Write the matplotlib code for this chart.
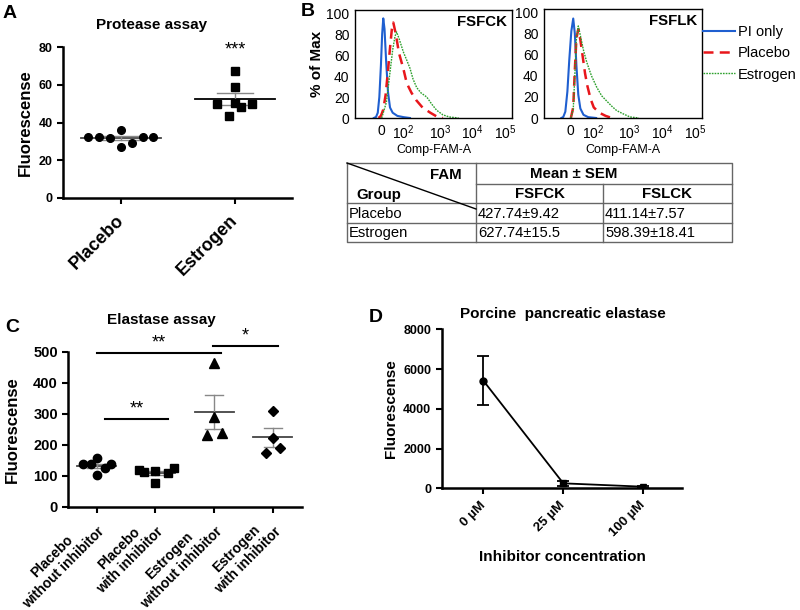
import numpy as np
import matplotlib.pyplot as plt
from matplotlib.lines import Line2D

plt.rcParams['font.family'] = ['Liberation Sans', 'DejaVu Sans']
plt.rcParams['mathtext.fontset'] = 'custom'
plt.rcParams['mathtext.rm'] = 'Liberation Sans'

# ---- data ----
# A: protease assay
protease_groups = ['Placebo', 'Estrogen']
protease_placebo = [32.3, 32.2, 31.6, 36.0, 27.2, 29.0, 32.5, 32.5]
protease_estrogen = [67.4, 59.0, 49.6, 50.5, 48.0, 49.6, 43.4]
protease_sig = '***'

# B: flow histograms (x in display units 0-100 of the biexponential axis, y = % of max)
hist_ticklabels = ['0', '$10^2$', '$10^3$', '$10^4$', '$10^5$']
hist_tickpos = [17, 31, 54, 75, 96]
series_names = ['PI only', 'Placebo', 'Estrogen']

fsfck_pi_x = [12, 13.4, 14.5, 15.5, 16.5, 17.3, 18.0, 18.8, 19.8, 21, 22.3, 24, 27, 31, 35]
fsfck_pi_y = [0, 1, 5, 20, 50, 80, 95, 85, 55, 25, 10, 5, 2, 0.8, 0]
fsfck_pl_x = [15, 16.5, 18, 19.5, 21, 22.5, 23.5, 24.4, 26, 28, 30.8, 33, 36, 39, 43, 48, 52, 56]
fsfck_pl_y = [0, 2, 8, 22, 45, 70, 85, 91, 80, 62, 47, 33, 24, 17, 10, 5, 1.5, 0]
fsfck_es_x = [17, 20, 22, 24, 25.5, 26.5, 28, 30.8, 33, 35, 37, 39.3, 42, 45.7, 49, 52, 56, 60, 66]
fsfck_es_y = [0, 15, 40, 65, 78, 82, 76, 63, 55, 47.5, 37, 29, 24, 20, 13, 7.4, 3, 1, 0]

fsflk_pi_x = [11, 12.2, 13.5, 14.8, 16, 17.3, 18.5, 19.5, 20.5, 21.7, 23, 25, 28, 33]
fsflk_pi_y = [0, 1, 6, 25, 55, 82, 94, 80, 50, 22, 9, 3, 0.8, 0]
fsflk_pl_x = [17, 18.5, 19.5, 20.5, 21.7, 23, 24.5, 26, 27.5, 29.5, 31.5, 35, 39, 43]
fsflk_pl_y = [0, 10, 45, 75, 84, 74, 58, 42, 30, 18, 10, 5, 2, 0]
fsflk_es_x = [17, 18.5, 19.5, 20.5, 21.7, 23, 25, 27, 30, 33.4, 36.5, 39.7, 43, 46, 50, 54.4, 60]
fsflk_es_y = [0, 8, 40, 75, 87, 78, 64, 53, 40, 29, 21, 16, 11, 7, 4, 1, 0]

# B: table
table_groups = ['Placebo', 'Estrogen']
table_fsfck = ['427.74±9.42', '627.74±15.5']
table_fslck = ['411.14±7.57', '598.39±18.41']

# C: elastase assay
elastase_groups = ['Placebo\nwithout inhibitor', 'Placebo\nwith inhibitor',
                   'Estrogen\nwithout inhibitor', 'Estrogen\nwith inhibitor']
elastase_values = [
    [136.7, 136.7, 156, 102, 124, 136.7],
    [118, 111, 115, 77, 107.6, 126],
    [464.5, 288, 231, 237],
    [308.7, 220.6, 190, 174],
]

# D: porcine pancreatic elastase
conc_labels = ['0 µM', '25 µM', '100 µM']
ppe_mean = [5420, 250, 80]
ppe_sem = [1250, 120, 60]

# ---- layout helpers (scatter jitter) ----
protease_dx = [[-0.287, -0.19, -0.096, 0, 0, 0.094, 0.19, 0.284],
               [0, 0, -0.155, 0, 0.05, 0.15, -0.05]]
elastase_dx = [[-0.23, -0.1, 0, 0, 0.14, 0.25],
               [-0.28, -0.19, 0, 0, 0.22, 0.31],
               [0, 0, -0.12, 0.13],
               [0, 0, 0.125, -0.12]]

W, H = 800, 610
fig = plt.figure(figsize=(8, 6.1), dpi=100)


def px(l, t, r, b):
    return [l / W, 1 - b / H, (r - l) / W, (b - t) / H]


def style_prism(ax):
    for s in ['top', 'right']:
        ax.spines[s].set_visible(False)
    for s in ['left', 'bottom']:
        ax.spines[s].set_linewidth(1.8)
    ax.tick_params(direction='out', length=4, width=1.5)


def bold_ticks(ax):
    for lbl in ax.get_xticklabels() + ax.get_yticklabels():
        lbl.set_fontweight('bold')


def mean_sem(ax, i, vals, hw, cw, mcolor):
    m = np.mean(vals)
    s = np.std(vals, ddof=1) / np.sqrt(len(vals))
    ax.plot([i - hw, i + hw], [m, m], color=mcolor, lw=1.3, zorder=1)
    ax.plot([i, i], [m - s, m + s], color='#888888', lw=1, zorder=1)
    for y in (m - s, m + s):
        ax.plot([i - cw, i + cw], [y, y], color='#888888', lw=1, zorder=1)


# overlay for letters and table
ov = fig.add_axes([0, 0, 1, 1])
ov.set_xlim(0, W)
ov.set_ylim(H, 0)
ov.axis('off')
for letter, (x, y) in zip('ABCD', [(10, 13), (308, 11), (12, 327), (376, 318)]):
    ov.text(x, y, letter, fontsize=14, fontweight='bold', ha='center', va='center')

# table
tx = [347, 476, 603, 732]
ty = [163, 184, 203, 223, 242]
lc = '#666666'
ov.plot([tx[0], tx[3], tx[3], tx[0], tx[0]], [ty[0], ty[0], ty[4], ty[4], ty[0]], color=lc, lw=1)
ov.plot([tx[1], tx[1]], [ty[0], ty[4]], color=lc, lw=1)
ov.plot([tx[2], tx[2]], [ty[1], ty[4]], color=lc, lw=1)
ov.plot([tx[1], tx[3]], [ty[1], ty[1]], color=lc, lw=1)
for y in ty[2:4]:
    ov.plot([tx[0], tx[3]], [y, y], color=lc, lw=1)
ov.plot([tx[0], tx[1]], [ty[0], 209], color='black', lw=1)
ov.text(462, 175, 'FAM', fontsize=10.8, fontweight='bold', ha='right', va='center')
ov.text(356, 195, 'Group', fontsize=10.8, fontweight='bold', ha='left', va='center')
ov.text(574, 174, 'Mean ± SEM', fontsize=10.8, fontweight='bold', ha='center', va='center')
ov.text(540, 194, 'FSFCK', fontsize=10.8, fontweight='bold', ha='center', va='center')
ov.text(667, 194, 'FSLCK', fontsize=10.8, fontweight='bold', ha='center', va='center')
for r, (g, a, b) in enumerate(zip(table_groups, table_fsfck, table_fslck)):
    yy = 214 + r * 19
    ov.text(349, yy, g, fontsize=10.6, ha='left', va='center')
    ov.text(478, yy, a, fontsize=10.6, ha='left', va='center')
    ov.text(605, yy, b, fontsize=10.6, ha='left', va='center')

# ---- A ----
axA = fig.add_axes(px(63, 47, 292, 198))
style_prism(axA)
for i, (vals, mk) in enumerate(zip([protease_placebo, protease_estrogen], ['o', 's'])):
    mean_sem(axA, i, vals, 0.35, 0.16, '#444444' if i == 0 else 'black')
    axA.plot(np.array(protease_dx[i]) + i, vals, mk, color='black', ms=5.5, ls='none', zorder=3)
axA.text(1, 74, protease_sig, ha='center', va='bottom', fontsize=13)
axA.set_xlim(-0.509, 1.5)
axA.set_ylim(0, 80)
axA.set_yticks([0, 20, 40, 60, 80])
axA.set_xticks([0, 1])
axA.set_xticklabels(protease_groups, rotation=45, ha='right', va='center',
                    rotation_mode='anchor', fontsize=13)
axA.tick_params(axis='y', labelsize=9)
axA.tick_params(axis='x', pad=10)
bold_ticks(axA)
axA.set_ylabel('Fluorescense', fontsize=12, fontweight='bold')
axA.yaxis.set_label_coords(-0.131, 0.5)
fig.text(152 / W, 1 - 25 / H, 'Protease assay', fontsize=11, fontweight='bold', ha='center', va='center')

# ---- B ----
colors = ['#1f5fd0', '#e8161b', '#2ca02c']
styles = [dict(ls='-', lw=1.5), dict(ls=(0, (4, 2.5)), lw=1.8), dict(ls=(0, (1.2, 0.8)), lw=1.0)]
hist_sets = [
    ('FSFCK', px(355, 10, 512, 118),
     [(fsfck_pi_x, fsfck_pi_y), (fsfck_pl_x, fsfck_pl_y), (fsfck_es_x, fsfck_es_y)]),
    ('FSFLK', px(544, 9, 702, 118),
     [(fsflk_pi_x, fsflk_pi_y), (fsflk_pl_x, fsflk_pl_y), (fsflk_es_x, fsflk_es_y)]),
]
for k, (name, rect, curves) in enumerate(hist_sets):
    ax = fig.add_axes(rect)
    for (xs, ys), c, st in zip(curves, colors, styles):
        ax.plot(xs, ys, color=c, **st)
    ax.set_xlim(0, 100)
    ax.set_ylim(0, 103)
    ax.set_yticks([0, 20, 40, 60, 80, 100])
    ax.set_xticks(hist_tickpos)
    ax.set_xticklabels(hist_ticklabels)
    ax.tick_params(length=0, labelsize=10, pad=4)
    for s in ax.spines.values():
        s.set_linewidth(1)
    ax.text(0.97, 0.95, name, transform=ax.transAxes, ha='right', va='top',
            fontsize=10.8, fontweight='bold')
    ax.set_xlabel('Comp-FAM-A', fontsize=9, labelpad=1)
    if k == 0:
        ax.set_ylabel('% of Max', fontsize=11, fontweight='bold', labelpad=2)

handles = [Line2D([], [], color=c, **st) for c, st in zip(colors, styles)]
fig.legend(handles, series_names, loc='upper left', bbox_to_anchor=(703 / W, 1 - 25 / H),
           frameon=False, fontsize=10.5, handlelength=2.2, handletextpad=0.2,
           labelspacing=0.5, borderpad=0, borderaxespad=0)

# ---- C ----
axC = fig.add_axes(px(68.3, 351.7, 301.7, 506.7))
style_prism(axC)
for i, (vals, mk, ms) in enumerate(zip(elastase_values, ['o', 's', '^', 'D'], [6, 5.5, 6.5, 5])):
    mean_sem(axC, i, vals, 0.33, 0.155, '#444444')
    axC.plot(np.array(elastase_dx[i]) + i, vals, mk, color='black', ms=ms, ls='none', zorder=3)
axC.set_xlim(-0.48, 3.49)
axC.set_ylim(0, 500)
axC.set_yticks([0, 100, 200, 300, 400, 500])
axC.set_xticks(range(4))
axC.set_xticklabels(elastase_groups, rotation=45, ha='right', va='center',
                    rotation_mode='anchor', fontsize=10, multialignment='center')
axC.tick_params(axis='y', labelsize=10.5)
axC.tick_params(axis='x', pad=8)
bold_ticks(axC)
axC.set_ylabel('Fluorescense', fontsize=12, fontweight='bold')
axC.yaxis.set_label_coords(-0.207, 0.5)
fig.text(161 / W, 1 - 320 / H, 'Elastase assay', fontsize=11, fontweight='bold', ha='center', va='center')
# significance bars
for (x0, x1, y, lab, ty_) in [(0, 2.11, 495, '**', 500), (0.14, 1.22, 283, '**', 288),
                              (1.98, 3.08, 519, '*', 524)]:
    axC.plot([x0, x1], [y, y], color='black', lw=1.5, clip_on=False)
    axC.text((x0 + x1) / 2, ty_, lab, ha='center', va='bottom', fontsize=13, clip_on=False)

# ---- D ----
axD = fig.add_axes(px(441.7, 329.3, 681.7, 488.3))
style_prism(axD)
xd = np.arange(len(conc_labels))
axD.errorbar(xd, ppe_mean, yerr=ppe_sem, fmt='-', color='black', lw=1.3,
             elinewidth=1.3, capsize=4, capthick=1.3)
for x, y, mk in zip(xd, ppe_mean, ['o', 's', 'v']):
    axD.plot(x, y, mk, color='black', ms=5)
axD.set_xlim(-0.52, 2.48)
axD.set_ylim(0, 8000)
axD.set_yticks([0, 2000, 4000, 6000, 8000])
axD.set_xticks(xd)
axD.set_xticklabels(conc_labels, rotation=45, ha='right', va='center',
                    rotation_mode='anchor', fontsize=9.5)
axD.tick_params(axis='y', labelsize=9)
axD.tick_params(axis='x', pad=7)
bold_ticks(axD)
axD.set_ylabel('Fluorescense', fontsize=11, fontweight='bold')
axD.yaxis.set_label_coords(-0.182, 0.5)
axD.set_xlabel('Inhibitor concentration', fontsize=11, fontweight='bold')
axD.xaxis.set_label_coords(0.505, -0.388)
fig.text(563 / W, 1 - 314 / H, 'Porcine  pancreatic elastase', fontsize=11, fontweight='bold',
         ha='center', va='center')

fig.savefig('out.png', dpi=100)
